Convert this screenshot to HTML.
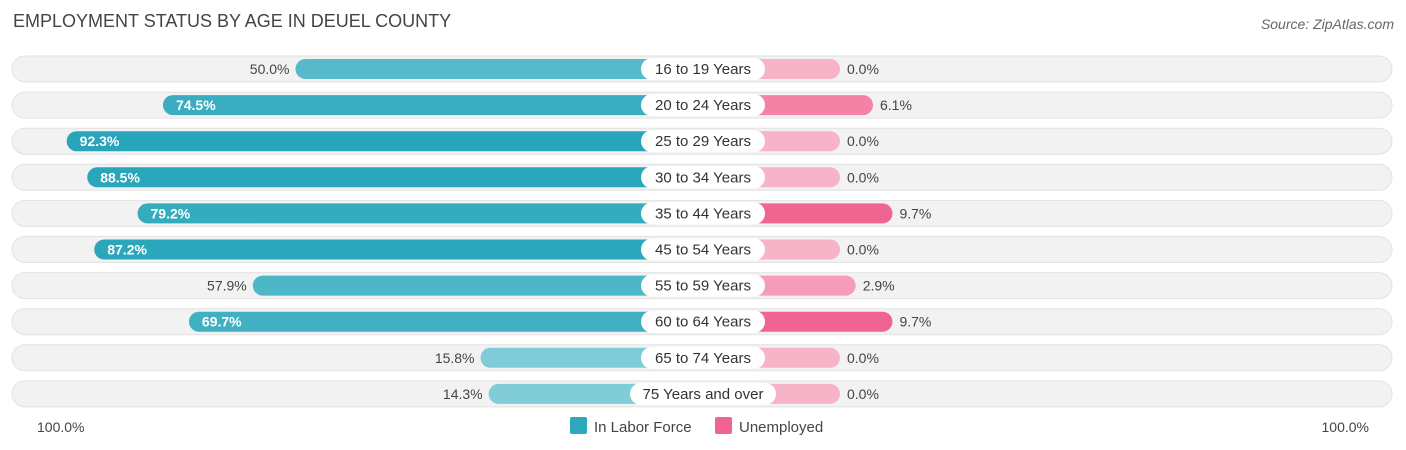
<!DOCTYPE html>
<html><head><meta charset="utf-8"><style>
body{margin:0;width:1406px;height:450px;background:#fff;font-family:"Liberation Sans",sans-serif;overflow:hidden;position:relative}
.t{position:absolute;left:13px;top:11px;font-size:18px;color:#444}
.s{position:absolute;right:12px;top:16px;font-size:14px;color:#666;font-style:italic}
</style></head><body>
<div class="t">EMPLOYMENT STATUS BY AGE IN DEUEL COUNTY</div>
<div class="s">Source: ZipAtlas.com</div>
<svg id="c" width="1406" height="450" style="position:absolute;left:0;top:0"></svg>
<script>
const categories=["16 to 19 Years","20 to 24 Years","25 to 29 Years","30 to 34 Years","35 to 44 Years","45 to 54 Years","55 to 59 Years","60 to 64 Years","65 to 74 Years","75 Years and over"];
const laborForce=[50.0,74.5,92.3,88.5,79.2,87.2,57.9,69.7,15.8,14.3];
const unemployed=[0.0,6.1,0.0,0.0,9.7,0.0,2.9,9.7,0.0,0.0];
const svg=document.getElementById('c');const NS='http://www.w3.org/2000/svg';
const cx=703,base=137,scale=5.41;
function w(v){return base+scale*v;}
function rowY(i){return 69+i*36.1;}
function mk(t,a,p){const e=document.createElementNS(NS,t);for(const k in a)e.setAttribute(k,a[k]);(p||svg).appendChild(e);return e;}
function mix(c1,c2,f){return 'rgb('+c1.map((x,i)=>Math.round(x+(c2[i]-x)*f)).join(',')+')';}
categories.forEach((c,i)=>{
 const y=rowY(i);
 const g=mk('g',{});
 
 
 const bg=mk('rect',{x:12,y:y-13,width:1380,height:26,rx:13,fill:'#f2f2f2',stroke:'#e2e2e2'},g);
 
 
 const lv=laborForce[i],lw=w(lv);
 const lb=mk('rect',{x:cx-lw,y:y-10,width:lw,height:20,rx:10,fill:mix([145,212,222],[40,165,186],Math.min(1,lv/90))},g);
 
 
 const uv=unemployed[i],uw=w(uv);
 const ub=mk('rect',{x:cx,y:y-10,width:uw,height:20,rx:10,fill:mix([247,180,201],[240,100,145],Math.min(1,uv/9.7))},g);
 
 
 const tw=c.length>14?146:124;
 const lab=mk('rect',{x:cx-tw/2,y:y-11,width:tw,height:22,rx:11,fill:'#fff'},g);
 
 
 const tt=mk('text',{x:cx,y:y+5,'text-anchor':'middle','font-size':15,fill:'#333'},g);tt.textContent=c;
 
 
 const inside=lv>60;
 const lt=mk('text',{x:inside?cx-lw+13:cx-lw-6,y:y+5,'text-anchor':inside?'start':'end','font-size':14,fill:inside?'#fff':'#444','font-weight':inside?'bold':'normal'},g);
 lt.textContent=lv.toFixed(1)+'%';
 
 
 const ut=mk('text',{x:cx+uw+7,y:y+5,'font-size':14,fill:'#444'},g);ut.textContent=uv.toFixed(1)+'%';
 
 
});
const a1=mk('text',{x:37,y:432,'font-size':14,fill:'#444'});a1.textContent='100.0%';

const a2=mk('text',{x:1369,y:432,'font-size':14,fill:'#444','text-anchor':'end'});a2.textContent='100.0%';

const l1=mk('rect',{x:570,y:417,width:17,height:17,rx:2,fill:'#2ea8bc'});

const l1t=mk('text',{x:594,y:432,'font-size':15,fill:'#444'});l1t.textContent='In Labor Force';

const l2=mk('rect',{x:715,y:417,width:17,height:17,rx:2,fill:'#f06491'});

const l2t=mk('text',{x:739,y:432,'font-size':15,fill:'#444'});l2t.textContent='Unemployed';

</script>
</body></html>
